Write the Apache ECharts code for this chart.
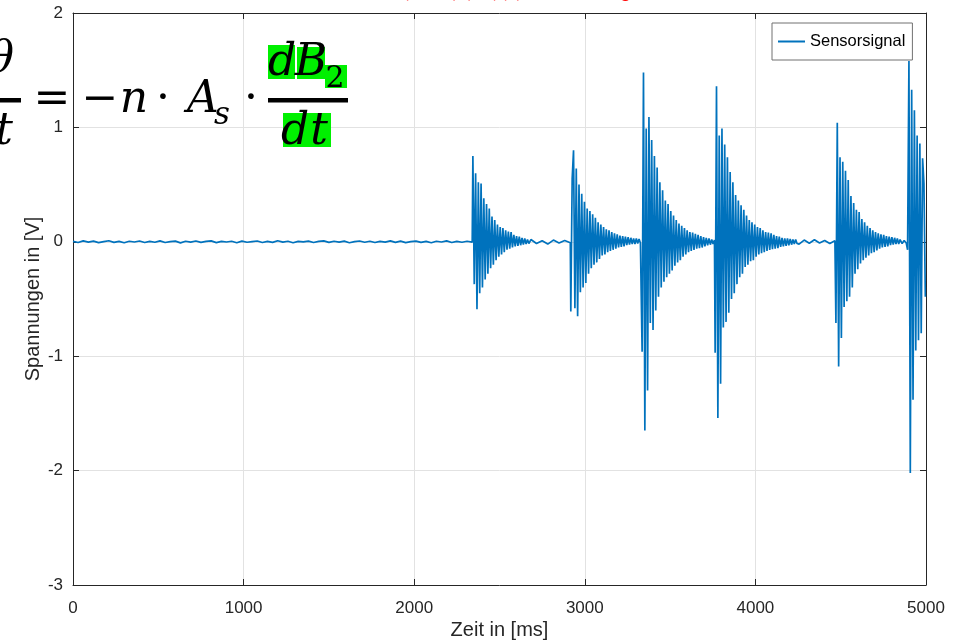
<!DOCTYPE html>
<html>
<head>
<meta charset="utf-8">
<script src="https://cdn.jsdelivr.net/npm/echarts@6/dist/echarts.min.js"></script>
<style>
  html, body { margin: 0; padding: 0; background: #fff; }
  #main { width: 961px; height: 640px; }
</style>
</head>
<body>
<div id="main"></div>
<script>
const seriesName = "Sensorsignal";
const xLabel = "Zeit in [ms]";
const yLabel = "Spannungen in [V]";

// Grundrauschen vor dem ersten Impuls
const noiseStart = 0;
const noiseStep = 30;
const noiseBase = [
  0.004, -0.006, 0.008, -0.003, 0.006, -0.007, 0.002, 0.009, -0.005, 0.004,
  -0.008, 0.005, -0.002, 0.007, -0.006, 0.003, -0.004, 0.008, -0.006, 0.001,
  0.006, -0.009, 0.005, -0.003, 0.007, -0.005, 0.003, 0.008, -0.007, 0.004,
  -0.002, 0.005, -0.008, 0.006, -0.004, 0.002, 0.007, -0.006, 0.003, -0.005,
  0.009, -0.003, 0.005, -0.008, 0.004, -0.001, 0.006, -0.006, 0.003, 0.008,
  -0.005, 0.005, -0.003, 0.006, -0.008, 0.002, 0.007, -0.004, 0.005, -0.006,
  0.003, -0.003, 0.008, -0.005, 0.006, -0.007, 0.001, 0.006, -0.005, 0.004,
  -0.008, 0.005, -0.002, 0.008, -0.006, 0.003, -0.004, 0.005, -0.003
];
// Rauschen zwischen den Impulsen: [Startzeit, Schritt] und Werte
const gapA = [2684, 33];
const noiseGapA = [0.02, -0.015, 0.01, -0.02, 0.015, -0.01, 0.012, -0.008];
const gapB = [4256, 30];
const noiseGapB = [-0.02, 0.015, -0.012, 0.018, -0.01, 0.012, -0.015, 0.01];
const gapC = [4860, 12];
const noiseGapC = [-0.015, 0.012, -0.01];

// Impulse (gedaempfte Schwingungen), Abtastschritt 8 ms
const burstStep = 8;
const burstStarts = [2344, 2918, 3336, 3764, 4472, 4892];
const burst1 = [
  0.75, -0.37, 0.60, -0.59, 0.52, -0.45, 0.51, -0.40, 0.38, -0.33,
  0.33, -0.28, 0.29, -0.23, 0.22, -0.20, 0.19, -0.16, 0.15, -0.13,
  0.13, -0.11, 0.12, -0.09, 0.10, -0.07, 0.09, -0.06, 0.085, -0.05,
  0.06, -0.04, 0.05, -0.035, 0.045, -0.03, 0.035, -0.025, 0.03, -0.02,
  0.02, -0.015
];
const burst2 = [
  -0.61, 0.55, 0.80, -0.58, 0.64, -0.65, 0.50, -0.44, 0.42, -0.40,
  0.35, -0.36, 0.29, -0.28, 0.27, -0.23, 0.24, -0.20, 0.21, -0.18,
  0.17, -0.15, 0.15, -0.12, 0.13, -0.11, 0.11, -0.09, 0.10, -0.08,
  0.085, -0.07, 0.075, -0.06, 0.065, -0.05, 0.055, -0.045, 0.05, -0.04,
  0.045, -0.03, 0.04, -0.025, 0.035, -0.02, 0.03, -0.02, 0.03, -0.015,
  0.025, -0.01
];
const burst3 = [
  -0.96, 1.48, -1.65, 0.99, -1.30, 1.09, -0.71, 0.89, -0.77, 0.75,
  -0.60, 0.65, -0.48, 0.52, -0.40, 0.45, -0.35, 0.36, -0.31, 0.33,
  -0.28, 0.27, -0.25, 0.23, -0.21, 0.19, -0.18, 0.16, -0.16, 0.14,
  -0.13, 0.12, -0.11, 0.10, -0.09, 0.085, -0.08, 0.08, -0.07, 0.07,
  -0.06, 0.06, -0.055, 0.05, -0.05, 0.04, -0.04, 0.035, -0.03, 0.03,
  -0.025, 0.02, -0.02, 0.015
];
const burst4 = [
  -0.97, 1.36, -1.54, 0.93, -1.24, 0.99, -0.75, 0.85, -0.70, 0.74,
  -0.62, 0.61, -0.50, 0.52, -0.45, 0.41, -0.37, 0.36, -0.31, 0.32,
  -0.28, 0.28, -0.22, 0.23, -0.20, 0.19, -0.17, 0.17, -0.16, 0.15,
  -0.13, 0.13, -0.11, 0.12, -0.10, 0.10, -0.09, 0.085, -0.08, 0.08,
  -0.07, 0.075, -0.065, 0.06, -0.06, 0.05, -0.055, 0.045, -0.045, 0.035,
  -0.04, 0.03, -0.035, 0.03, -0.03, 0.025, -0.025, 0.02, -0.02, 0.02,
  -0.015
];
const burst5 = [
  -0.71, 1.04, -1.09, 0.74, -0.84, 0.70, -0.57, 0.62, -0.52, 0.54,
  -0.48, 0.40, -0.40, 0.34, -0.28, 0.28, -0.24, 0.26, -0.19, 0.20,
  -0.16, 0.17, -0.14, 0.14, -0.12, 0.12, -0.10, 0.10, -0.09, 0.085,
  -0.075, 0.075, -0.06, 0.065, -0.05, 0.06, -0.045, 0.05, -0.04, 0.045,
  -0.03, 0.04, -0.025, 0.035, -0.02, 0.03, -0.02, 0.02
];
const burst6 = [
  -0.07, 1.58, -2.02, 1.33, -1.38, 1.15, -0.95, 0.93, -0.86, 0.86,
  -0.80, 0.73, 0.51, -0.48
];

function seg(start, step, values) {
  return values.map((v, i) => [start + i * step, v]);
}

const signal = [].concat(
  seg(noiseStart, noiseStep, noiseBase),
  seg(burstStarts[0], burstStep, burst1),
  seg(gapA[0], gapA[1], noiseGapA),
  seg(burstStarts[1], burstStep, burst2),
  seg(burstStarts[2], burstStep, burst3),
  seg(burstStarts[3], burstStep, burst4),
  seg(gapB[0], gapB[1], noiseGapB),
  seg(burstStarts[4], burstStep, burst5),
  seg(gapC[0], gapC[1], noiseGapC),
  seg(burstStarts[5], burstStep, burst6)
);

const myChart = echarts.init(document.getElementById("main"), null, { renderer: "canvas" });
const axisColor = "#262626";
const gridColor = "#e2e2e2";
const font = "Liberation Sans, Arial, sans-serif";
const mathFont = "DejaVu Serif, serif";

function frameAxis(pos) {
  const isX = pos === "top";
  return {
    type: "value",
    position: pos,
    min: isX ? 0 : -3,
    max: isX ? 5000 : 2,
    interval: isX ? 1000 : 1,
    axisLine: { show: true, onZero: false, lineStyle: { color: axisColor, width: 1 } },
    axisTick: { show: true, inside: true, length: 6, lineStyle: { color: axisColor } },
    axisLabel: { show: false },
    splitLine: { show: false },
  };
}

const option = {
  animation: false,
  grid: { left: 73, right: 35, top: 13, bottom: 55, containLabel: false, outerBoundsMode: "none" },
  legend: {
    data: [seriesName],
    left: 772,
    top: 23,
    padding: [10, 7, 10, 6],
    borderColor: "#707070",
    borderWidth: 1,
    backgroundColor: "#fff",
    itemWidth: 27,
    itemHeight: 2,
    itemGap: 0,
    icon: "rect",
    textStyle: { fontSize: 16.5, color: "#000", fontFamily: font },
  },
  xAxis: [
    {
      type: "value",
      position: "bottom",
      min: 0,
      max: 5000,
      interval: 1000,
      name: xLabel,
      nameLocation: "middle",
      nameGap: 35,
      nameMoveOverlap: false,
      nameTextStyle: { fontSize: 20, color: axisColor, fontFamily: font },
      axisLine: { show: true, onZero: false, lineStyle: { color: axisColor, width: 1 } },
      axisTick: { show: true, inside: true, length: 6, lineStyle: { color: axisColor } },
      axisLabel: { fontSize: 17, color: axisColor, margin: 15, fontFamily: font, formatter: (v) => String(v) },
      splitLine: { show: true, lineStyle: { color: gridColor, width: 1 } },
    },
    frameAxis("top"),
  ],
  yAxis: [
    {
      type: "value",
      position: "left",
      min: -3,
      max: 2,
      interval: 1,
      name: yLabel,
      nameLocation: "middle",
      nameGap: 30,
      nameMoveOverlap: false,
      nameTextStyle: { fontSize: 20, color: axisColor, fontFamily: font },
      axisLine: { show: true, onZero: false, lineStyle: { color: axisColor, width: 1 } },
      axisTick: { show: true, inside: true, length: 6, lineStyle: { color: axisColor } },
      axisLabel: { fontSize: 17, color: axisColor, margin: 10, fontFamily: font, formatter: (v) => String(v) },
      splitLine: { show: true, lineStyle: { color: gridColor, width: 1 } },
    },
    frameAxis("right"),
  ],
  series: [
    {
      name: seriesName,
      type: "line",
      xAxisIndex: 0,
      yAxisIndex: 0,
      data: signal,
      symbol: "none",
      showSymbol: false,
      lineStyle: { color: "#0072BD", width: 1.7 },
      itemStyle: { color: "#0072BD" },
      z: 3,
    },
  ],
  // Formel-Overlay oben links (Folienausschnitt) und abgeschnittener Titel
  graphic: [
    { type: "text", left: 404, top: -13, style: { text: "(Sensor), (Zeit) (U)", font: "14px " + font, fill: "#ff8080" }, z: 10 },
    { type: "text", right: 330, top: -17, style: { text: "Messung", font: "bold 18px " + font, fill: "#ff0000" }, z: 10 },

    { type: "rect", shape: { x: 268, y: 45, width: 27, height: 34 }, style: { fill: "#00f000" }, z: 10 },
    { type: "rect", shape: { x: 297, y: 47, width: 28, height: 32 }, style: { fill: "#00f000" }, z: 10 },
    { type: "rect", shape: { x: 325, y: 65, width: 22, height: 23 }, style: { fill: "#00f000" }, z: 10 },
    { type: "rect", shape: { x: 283, y: 113, width: 48, height: 34 }, style: { fill: "#00f000" }, z: 10 },

    { type: "rect", shape: { x: -10, y: 98, width: 31, height: 4.5 }, style: { fill: "#000" }, z: 11 },
    { type: "rect", shape: { x: 268, y: 98, width: 80, height: 4.5 }, style: { fill: "#000" }, z: 11 },

    { type: "text", x: 14, y: 61, style: { text: "θ", font: "italic 44px " + mathFont, fill: "#000", align: "right", verticalAlign: "middle" }, z: 11 },
    { type: "text", x: 13, y: 133, style: { text: "t", font: "italic 44px " + mathFont, fill: "#000", align: "right", verticalAlign: "middle" }, z: 11 },
    { type: "text", x: 52, y: 101, style: { text: "=", font: "44px " + mathFont, fill: "#000", align: "center", verticalAlign: "middle" }, z: 11 },
    { type: "text", x: 100, y: 101, style: { text: "−", font: "44px " + mathFont, fill: "#000", align: "center", verticalAlign: "middle" }, z: 11 },
    { type: "text", x: 134, y: 101, style: { text: "n", font: "italic 44px " + mathFont, fill: "#000", align: "center", verticalAlign: "middle" }, z: 11 },
    { type: "text", x: 163, y: 101, style: { text: "·", font: "44px " + mathFont, fill: "#000", align: "center", verticalAlign: "middle" }, z: 11 },
    { type: "text", x: 203, y: 101, style: { text: "A", font: "italic 44px " + mathFont, fill: "#000", align: "center", verticalAlign: "middle" }, z: 11 },
    { type: "text", x: 222, y: 116, style: { text: "s", font: "italic 31px " + mathFont, fill: "#000", align: "center", verticalAlign: "middle" }, z: 11 },
    { type: "text", x: 251, y: 101, style: { text: "·", font: "44px " + mathFont, fill: "#000", align: "center", verticalAlign: "middle" }, z: 11 },
    { type: "text", x: 282, y: 64, style: { text: "d", font: "italic 44px " + mathFont, fill: "#000", align: "center", verticalAlign: "middle" }, z: 11 },
    { type: "text", x: 311, y: 64, style: { text: "B", font: "italic 44px " + mathFont, fill: "#000", align: "center", verticalAlign: "middle" }, z: 11 },
    { type: "text", x: 335, y: 79, style: { text: "2", font: "30px " + mathFont, fill: "#000", align: "center", verticalAlign: "middle" }, z: 11 },
    { type: "text", x: 295, y: 133, style: { text: "d", font: "italic 44px " + mathFont, fill: "#000", align: "center", verticalAlign: "middle" }, z: 11 },
    { type: "text", x: 319, y: 133, style: { text: "t", font: "italic 44px " + mathFont, fill: "#000", align: "center", verticalAlign: "middle" }, z: 11 },
  ],
};

myChart.setOption(option);
</script>
</body>
</html>
